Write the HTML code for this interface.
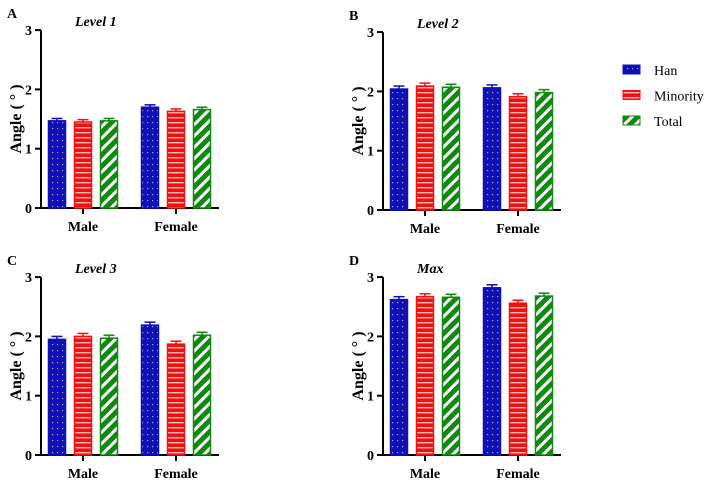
<!DOCTYPE html>
<html><head><meta charset="utf-8"><style>
body{margin:0;background:#fff}
svg text{font-family:"Liberation Serif",serif}
</style></head><body>
<svg id="c" width="708" height="482" xmlns="http://www.w3.org/2000/svg">
<defs>
<pattern id="pHan" width="5" height="6" patternUnits="userSpaceOnUse"><rect width="5" height="6" fill="#1010b8"/><rect x="2" y="2" width="1.2" height="1.2" fill="#aab"/></pattern>
<pattern id="pMin" width="6" height="5" patternUnits="userSpaceOnUse"><rect width="6" height="5" fill="#f01010"/><rect y="2" width="6" height="1.4" fill="#fbb"/></pattern>
<pattern id="pTot" width="8" height="8" patternUnits="userSpaceOnUse" patternTransform="rotate(45)"><rect width="8" height="8" fill="#118811"/><rect x="0" width="3" height="8" fill="#fff"/></pattern>
</defs>
</svg>
<script>
const groups=["Male","Female"];
const seriesNames=["Han","Minority","Total"];
const panelTitles=["Level 1","Level 2","Level 3","Max"];
const panelLetters=["A","B","C","D"];
const yTicks=[0,1,2,3];
const hanVals=[[1.47,1.70],[2.04,2.06],[1.95,2.19],[2.62,2.82]];
const minVals=[[1.45,1.63],[2.09,1.91],[2.00,1.87],[2.67,2.56]];
const totVals=[[1.47,1.66],[2.07,1.98],[1.97,2.02],[2.66,2.68]];
const errVals=[[0.04,0.04],[0.05,0.05],[0.05,0.05],[0.05,0.05]];
const svg=document.getElementById('c');const NS="http://www.w3.org/2000/svg";
function mk(t,a,p){const e=document.createElementNS(NS,t);for(const k in a)e.setAttribute(k,a[k]);(p||svg).appendChild(e);return e;}
const fills=["url(#pHan)","url(#pMin)","url(#pTot)"];const edge=["#1010b8","#f01010","#118811"];
const origins=[[41,208],[383,210],[41,455],[383,455]];
const allVals=[hanVals,minVals,totVals];
origins.forEach((o,pi)=>{
  const x0=o[0],yb=o[1],ppu=59.3;
  const g=mk('g',{});
  
  
  const y=v=>yb-v*ppu;
  const cx=i=>x0+42+i*93;
  const L=mk('text',{x:x0-34,y:yb-190,'font-size':14,'font-weight':'bold','font-family':'Liberation Sans'},g);L.textContent=panelLetters[pi];
  
  const T=mk('text',{x:x0+34,y:yb-182,'font-size':14,'font-weight':'bold','font-style':'italic'},g);T.textContent=panelTitles[pi];
  
  mk('line',{x1:x0,x2:x0,y1:y(3),y2:yb,stroke:'#000','stroke-width':2},g);
  mk('line',{x1:x0,x2:x0+178,y1:yb,y2:yb,stroke:'#000','stroke-width':2},g);
  yTicks.forEach(t=>{mk('line',{x1:x0-6,x2:x0,y1:y(t),y2:y(t),stroke:'#000','stroke-width':2},g);
    const tx=mk('text',{x:x0-9,y:y(t)+5,'font-size':14,'font-weight':'bold','text-anchor':'end'},g);tx.textContent=t;
    });
  const yl=mk('text',{transform:`translate(${x0-20},${yb-89}) rotate(-90)`,'font-size':16,'font-weight':'bold','text-anchor':'middle'},g);yl.textContent='Angle ( ° )';
  
  groups.forEach((gn,gi)=>{
    mk('line',{x1:cx(gi),x2:cx(gi),y1:yb,y2:yb+6,stroke:'#000','stroke-width':2},g);
    const xl=mk('text',{x:cx(gi),y:yb+23,'font-size':14,'font-weight':'bold','text-anchor':'middle'},g);xl.textContent=gn;
    
    allVals.forEach((sv,si)=>{
      const v=sv[pi][gi],e=errVals[pi][gi];const bx=cx(gi)+(si-1)*26-8.5;
      mk('line',{x1:bx+8.5,x2:bx+8.5,y1:y(v),y2:y(v+e),stroke:edge[si],'stroke-width':1.5},g);
      mk('line',{x1:bx+3,x2:bx+14,y1:y(v+e),y2:y(v+e),stroke:edge[si],'stroke-width':1.5},g);
      const r=mk('rect',{x:bx,y:y(v),width:17,height:v*ppu,fill:fills[si],stroke:edge[si],'stroke-width':1.5},g);
      
      
    });
  });
});
seriesNames.forEach((n,i)=>{
  const yy=70+i*25.5;
  const lg=mk('g',{});
  
  
  mk('rect',{x:623,y:yy-5,width:17,height:9,fill:fills[i],stroke:edge[i]},lg);
  const t=mk('text',{x:654,y:yy+5,'font-size':14},lg);t.textContent=n;
});
</script>
</body></html>
